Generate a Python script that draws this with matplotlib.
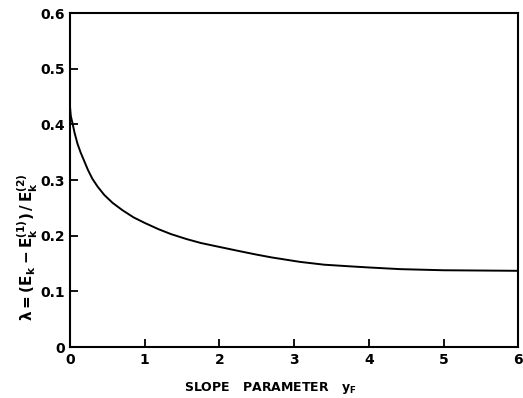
import matplotlib
matplotlib.use('Agg')
import matplotlib.pyplot as plt

# curve
slope_param = [0.0, 0.01, 0.036, 0.06, 0.10, 0.14, 0.19, 0.24, 0.30, 0.37, 0.46, 0.57, 0.70,
               0.85, 1.0, 1.18, 1.35, 1.56, 1.75, 1.96, 2.28, 2.50, 2.70, 3.08, 3.40,
               3.75, 4.0, 4.42, 5.0, 6.0]
lambda_vals = [0.43, 0.415, 0.40, 0.385, 0.365, 0.350, 0.334, 0.318, 0.302, 0.288, 0.273, 0.259, 0.246,
               0.233, 0.223, 0.212, 0.203, 0.194, 0.187, 0.181, 0.172, 0.166, 0.161, 0.153, 0.148,
               0.145, 0.143, 0.140, 0.138, 0.137]

x_ticks = [0, 1, 2, 3, 4, 5, 6]
y_ticks = [0, 0.1, 0.2, 0.3, 0.4, 0.5, 0.6]
y_tick_labels = ['0', '0.1', '0.2', '0.3', '0.4', '0.5', '0.6']

plt.rcParams['font.family'] = ['DejaVu Sans']
plt.rcParams['font.weight'] = 'bold'
plt.rcParams['mathtext.fontset'] = 'dejavusans'
plt.rcParams['mathtext.default'] = 'bf'

fig = plt.figure(figsize=(5.23, 3.98), dpi=100)
ax = fig.add_axes([0.134, 0.128, 0.857, 0.839])

ax.plot(slope_param, lambda_vals, color='black', linewidth=1.4)

ax.set_xlim(0, 6)
ax.set_ylim(0, 0.6)
ax.set_xticks(x_ticks)
ax.set_yticks(y_ticks)
ax.set_yticklabels(y_tick_labels)
ax.tick_params(direction='in', length=6, width=1.3, labelsize=10, pad=4)
for lbl in ax.get_xticklabels() + ax.get_yticklabels():
    lbl.set_fontweight('bold')
for s in ax.spines.values():
    s.set_linewidth(1.5)

ax.set_xlabel(r'SLOPE   PARAMETER   $y_F$', fontsize=9, fontweight='bold')
ax.xaxis.set_label_coords(0.446, -0.10)
ax.set_ylabel(r'$\lambda = (E_k - E_k^{(1)})\,/\,E_k^{(2)}$', fontsize=11)
ax.yaxis.set_label_coords(-0.068, 0.30)

fig.savefig('out.png', dpi=100)
plt.close(fig)
